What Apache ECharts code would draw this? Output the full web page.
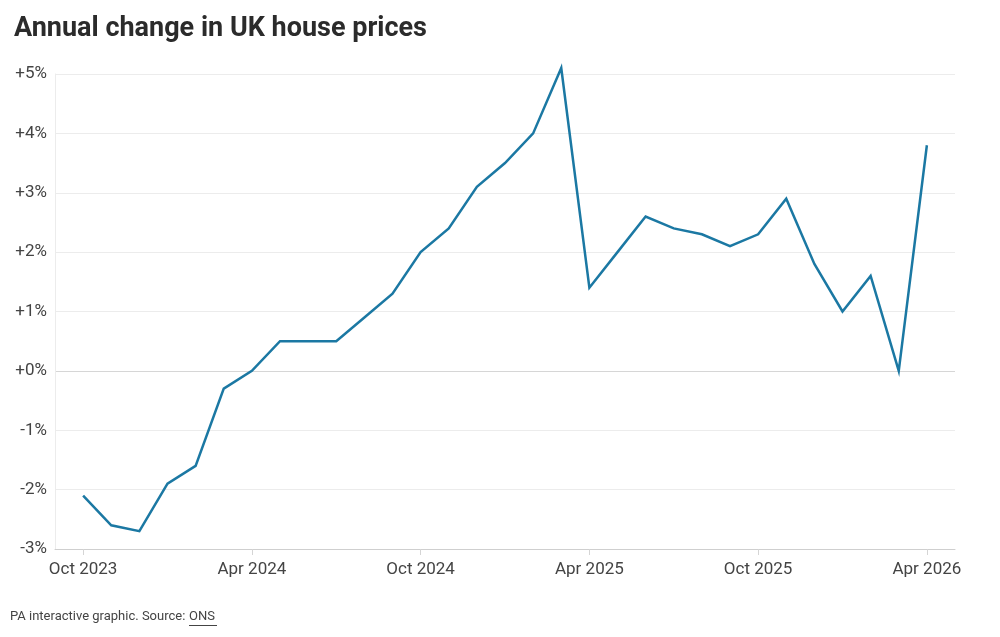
<!DOCTYPE html>
<html>
<head>
<meta charset="utf-8">
<script src="https://cdn.jsdelivr.net/npm/echarts@6/dist/echarts.min.js"></script>
<style>
  html, body { margin: 0; padding: 0; background: #fff; }
  #chart { width: 1000px; height: 637px; }
</style>
</head>
<body>
<div id="chart"></div>
<script>
// monthly labels, Oct 2023 .. Apr 2026
const months = [
  'Oct 2023', 'Nov 2023', 'Dec 2023', 'Jan 2024', 'Feb 2024', 'Mar 2024',
  'Apr 2024', 'May 2024', 'Jun 2024', 'Jul 2024', 'Aug 2024', 'Sep 2024',
  'Oct 2024', 'Nov 2024', 'Dec 2024', 'Jan 2025', 'Feb 2025', 'Mar 2025',
  'Apr 2025', 'May 2025', 'Jun 2025', 'Jul 2025', 'Aug 2025', 'Sep 2025',
  'Oct 2025', 'Nov 2025', 'Dec 2025', 'Jan 2026', 'Feb 2026', 'Mar 2026',
  'Apr 2026'
]
const annualChange = [
  -2.1, -2.6, -2.7, -1.9, -1.6, -0.3,
  0.0, 0.5, 0.5, 0.5, 0.9, 1.3,
  2.0, 2.4, 3.1, 3.5, 4.0, 5.1,
  1.4, 2.0, 2.6, 2.4, 2.3, 2.1,
  2.3, 2.9, 1.8, 1.0, 1.6, 0.0,
  3.8
]
const labelIdx = [0, 6, 12, 18, 24, 30]
const yTicks = [-3, -2, -1, 0, 1, 2, 3, 4, 5]

const font = 'Roboto, "Liberation Sans", sans-serif'
const chart = echarts.init(document.getElementById('chart'))

chart.setOption({
  animation: false,
  backgroundColor: '#fff',
  title: {
    text: 'Annual change in UK house prices',
    left: 9,
    top: 11,
    textStyle: { fontFamily: font, fontSize: 27, fontWeight: 'bold', color: '#2b2b2b' }
  },
  grid: { left: 55, right: 45, top: 74, bottom: 88 },
  xAxis: {
    type: 'value',
    min: -1,
    max: 31,
    splitLine: { show: false },
    axisLine: { show: true, onZero: false, lineStyle: { color: '#cfcfcf', width: 1 } },
    axisTick: {
      show: true,
      customValues: labelIdx,
      length: 6,
      lineStyle: { color: '#d5d5d5' }
    },
    axisLabel: {
      customValues: labelIdx,
      margin: 12,
      fontFamily: font,
      fontSize: 17,
      color: '#444',
      formatter: v => months[v] || ''
    }
  },
  yAxis: {
    type: 'value',
    min: yTicks[0],
    max: yTicks[yTicks.length - 1],
    interval: 1,
    axisLine: { show: true, onZero: false, lineStyle: { color: '#ececec' } },
    axisTick: { show: false },
    splitLine: {
      show: true,
      lineStyle: {
        color: ['#ececec', '#ececec', '#ececec', '#d6d6d6', '#ececec', '#ececec', '#ececec', '#ececec', '#ececec'],
        width: 1
      }
    },
    axisLabel: {
      margin: 8,
      fontFamily: font,
      fontSize: 17,
      color: '#444',
      formatter: v => (v >= 0 ? '+' : '') + v + '%'
    }
  },
  series: [{
    type: 'line',
    data: annualChange.map((v, i) => [i, v]),
    showSymbol: false,
    clip: false,
    lineStyle: { color: '#1b78a3', width: 2.5, join: 'miter' },
    itemStyle: { color: '#1b78a3' }
  }],
  graphic: [
    {
      type: 'text',
      left: 10,
      top: 610,
      style: {
        text: 'PA interactive graphic. Source: ',
        font: '13px ' + font,
        fill: '#444'
      }
    },
    {
      type: 'text',
      left: 189,
      top: 610,
      style: {
        text: 'ONS',
        font: '13px ' + font,
        fill: '#444'
      }
    },
    {
      type: 'rect',
      shape: { x: 189, y: 625, width: 28, height: 1 },
      style: { fill: '#444' }
    }
  ]
})
</script>
</body>
</html>
